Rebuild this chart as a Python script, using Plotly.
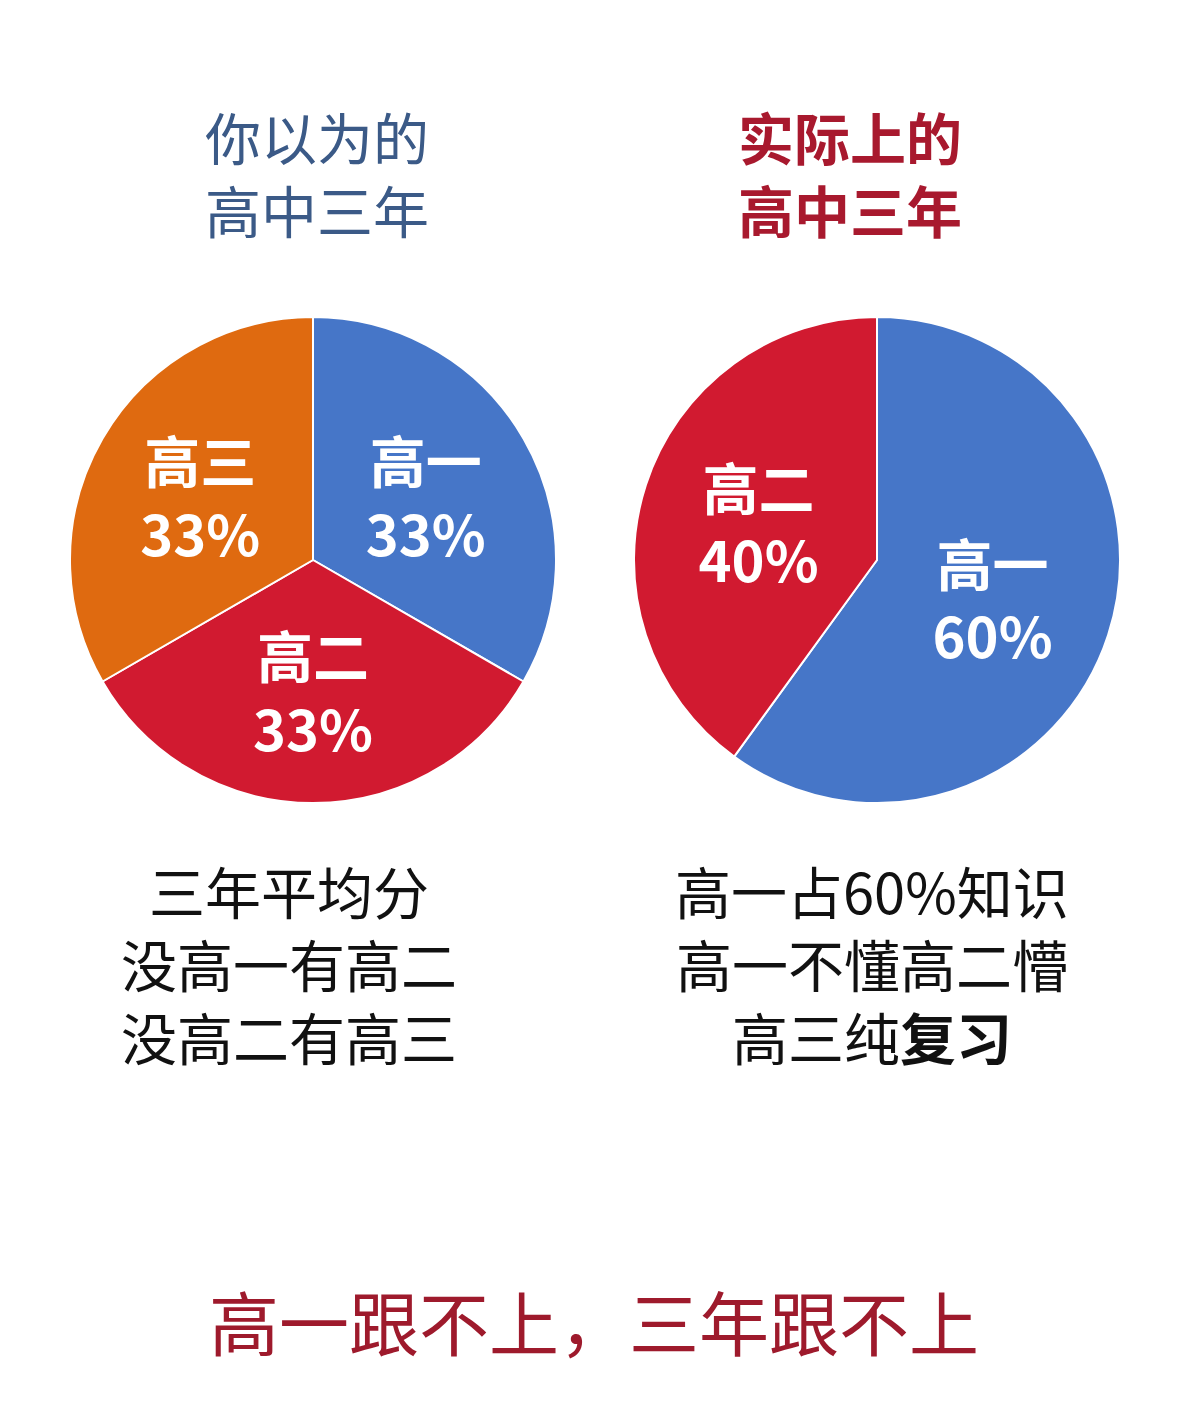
import plotly.graph_objects as go

# Data
left_labels = ["高一", "高二", "高三"]
left_values = [33, 33, 33]
right_labels = ["高一", "高二"]
right_values = [60, 40]

left_title = "你以为的<br>高中三年"
right_title = "<b>实际上的<br>高中三年</b>"
left_notes = ["三年平均分", "没高一有高二", "没高二有高三"]
right_notes = ["高一占60%知识", "高一不懂高二懵", "高三纯<b>复习</b>"]
bottom_line = "高一跟不上，三年跟不上"

BLUE = "#4676C8"
RED = "#D11A30"
ORANGE = "#DF6A10"
FONT = "Noto Sans CJK SC"

W, H = 1179, 1413

def px_dom(x0, x1, y0, y1):
    return dict(x=[x0 / W, x1 / W], y=[1 - y1 / H, 1 - y0 / H])

fig = go.Figure()
fig.add_trace(go.Pie(
    labels=left_labels, values=left_values,
    marker=dict(colors=[BLUE, RED, ORANGE], line=dict(color="white", width=2)),
    sort=False, direction="clockwise", rotation=0,
    texttemplate="<b>%{label}<br>%{value}%</b>", textposition="inside",
    insidetextorientation="horizontal",
    textfont=dict(family=FONT, size=56, color="white"),
    domain=px_dom(70, 556, 317, 803), showlegend=False, hoverinfo="skip",
))
fig.add_trace(go.Pie(
    labels=right_labels, values=right_values,
    marker=dict(colors=[BLUE, RED], line=dict(color="white", width=2)),
    sort=False, direction="clockwise", rotation=0,
    texttemplate="<b>%{label}<br>%{value}%</b>", textposition="inside",
    insidetextorientation="horizontal",
    textfont=dict(family=FONT, size=56, color="white"),
    domain=px_dom(634, 1120, 317, 803), showlegend=False, hoverinfo="skip",
))

ann = []
def add_text(text, x, y, size, color):
    ann.append(dict(text=text, x=x / W, y=1 - y / H, xref="paper", yref="paper",
                    xanchor="center", yanchor="middle", showarrow=False,
                    font=dict(family=FONT, size=size, color=color)))

add_text(left_title, 317, 172, 56, "#3B5A87")
add_text(right_title, 850, 172, 56, "#A8192E")
add_text("<br>".join(left_notes), 289, 962, 56, "#111111")
add_text("<br>".join(right_notes), 872, 962, 56, "#111111")
add_text(bottom_line, 594, 1320, 70, "#9E1A2C")

fig.update_layout(
    width=W, height=H, margin=dict(l=0, r=0, t=0, b=0),
    paper_bgcolor="white", plot_bgcolor="white",
    annotations=ann,
)
fig.write_html("out.html")
